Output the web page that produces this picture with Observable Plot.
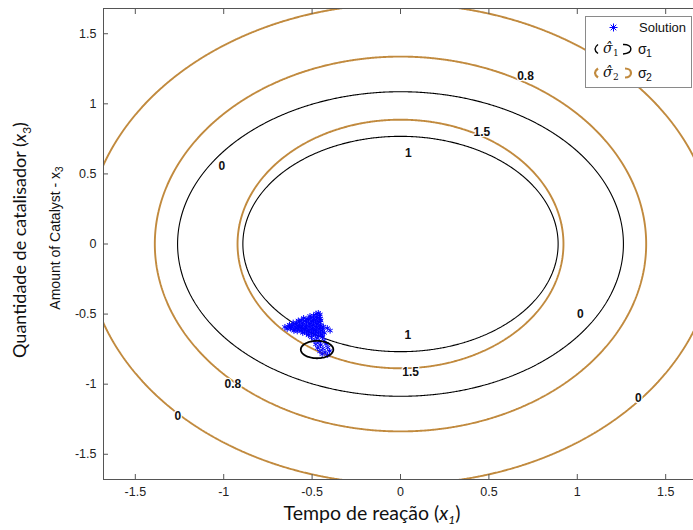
<!DOCTYPE html>
<html><head><meta charset="utf-8">
<script src="https://cdn.jsdelivr.net/npm/d3@7"></script>
<script src="https://cdn.jsdelivr.net/npm/@observablehq/plot@0.6"></script>
<style>
html,body{margin:0;padding:0;background:#fff;overflow:hidden;}
#wrap{position:relative;width:693px;height:530px;overflow:hidden;background:#fff;}
#chart{position:absolute;left:0;top:0;width:700px;}
#chart svg{max-width:none !important;}
.rot{position:absolute;white-space:nowrap;transform:translate(-50%,-50%) rotate(-90deg);}
#ylab1{left:21px;top:240px;font-family:Lato,"Open Sans",sans-serif;font-size:18px;color:#111;}
#ylab2{left:56px;top:238px;font-family:"Liberation Sans",Arial,sans-serif;font-size:14px;color:#111;}
#xlab{position:absolute;left:372px;top:514px;transform:translate(-50%,-50%);white-space:nowrap;font-family:Lato,"Open Sans",sans-serif;font-size:19.5px;color:#111;}
#legend{position:absolute;left:585px;top:16px;}
</style></head><body>
<div id="wrap">
<div id="chart"></div>
<div id="ylab1" class="rot">Quantidade de catalisador (<i>x</i><sub style="font-size:12px">3</sub>)</div>
<div id="ylab2" class="rot">Amount of Catalyst - x<sub style="font-size:10px">3</sub></div>
<div id="xlab">Tempo de reação (<i>x<sub style="font-size:12px">1</sub></i>)</div>
<svg id="legend" width="108" height="74" font-family="Liberation Sans, Arial, sans-serif">
  <rect x="0.5" y="0.5" width="106" height="71" fill="#fff" stroke="#8a8a8a"/>
  <path d="M24.5,11.5h8M28.5,7.5v8M25.7,8.7l5.6,5.6M31.3,8.7l-5.6,5.6" stroke="#0000ff" stroke-width="1"/>
  <text x="54" y="16" font-size="13" fill="#111">Solution</text>
  <path d="M13,28.5 Q7,33 13,37.5" fill="none" stroke="#000" stroke-width="1.4"/>
  <text x="18" y="37" font-family="DejaVu Serif, serif" font-style="italic" font-size="14" fill="#111">σ̂</text>
  <text x="28" y="40" font-family="DejaVu Serif, serif" font-size="9" fill="#111">1</text>
  <path d="M38,28.5 C48,28 49,37 38,38" fill="none" stroke="#000" stroke-width="1.4"/>
  <text x="53" y="38" font-size="14" fill="#111">σ</text>
  <text x="61" y="41" font-size="10.5" fill="#111">1</text>
  <path d="M13,52.5 Q7,57 13,61.5" fill="none" stroke="#C18A3E" stroke-width="2.2"/>
  <text x="18" y="61" font-family="DejaVu Serif, serif" font-style="italic" font-size="14" fill="#111">σ̂</text>
  <text x="28" y="64" font-family="DejaVu Serif, serif" font-size="9" fill="#111">2</text>
  <path d="M40,52.5 C48,52.5 48,61.5 40,61.5" fill="none" stroke="#C18A3E" stroke-width="2.2"/>
  <text x="53" y="62" font-size="14" fill="#111">σ</text>
  <text x="61" y="65" font-size="10.5" fill="#111">2</text>
</svg>
</div>
<script>
// ---- data ----
const xTicks = [-1.5, -1, -0.5, 0, 0.5, 1, 1.5];
const yTicks = [-1.5, -1, -0.5, 0, 0.5, 1, 1.5];
const axisDomain = [-1.68, 1.68];

// sigma1 (black) surface: c - (x^2/ax + y^2/ay)
const sigma1Coef = [2.0, 0.795, 0.59];
const sigma1Levels = [0, 1];
// sigma2 (gold) surface: c - (x^2/ax + y^2/ay)
const sigma2Coef = [2.05, 1.545, 1.43];
const sigma2Levels = [0, 0.8, 1.5];

// small confidence region around the solution: center and semi-axes
const regionCenter = [-0.472, -0.753];
const regionAxes = [0.092, 0.062];

// contour labels
const labelText = ["0.8", "0.8", "1.5", "1.5", "1", "1", "0", "0", "0", "0"];
const labelX = [0.707, -0.948, 0.46, 0.057, 0.044, 0.041, -1.011, 1.017, -1.26, 1.345];
const labelY = [1.197, -0.998, 0.797, -0.912, 0.647, -0.65, 0.552, -0.5, -1.231, -1.103];

// solution points (x1, x3)
const solution = [
 [-0.478,-0.497],[-0.465,-0.492],[-0.455,-0.503],
 [-0.512,-0.514],[-0.492,-0.511],[-0.474,-0.518],[-0.458,-0.515],
 [-0.548,-0.528],[-0.529,-0.533],[-0.508,-0.527],[-0.489,-0.532],[-0.471,-0.529],[-0.454,-0.534],
 [-0.578,-0.546],[-0.561,-0.543],[-0.539,-0.548],[-0.521,-0.544],[-0.502,-0.549],[-0.483,-0.545],[-0.466,-0.550],[-0.451,-0.546],
 [-0.607,-0.561],[-0.589,-0.564],[-0.571,-0.558],[-0.552,-0.563],[-0.531,-0.559],[-0.511,-0.565],[-0.492,-0.561],[-0.473,-0.566],[-0.456,-0.559],
 [-0.628,-0.576],[-0.612,-0.579],[-0.591,-0.574],[-0.572,-0.580],[-0.553,-0.576],[-0.532,-0.581],[-0.513,-0.575],[-0.494,-0.579],[-0.472,-0.574],[-0.452,-0.580],
 [-0.654,-0.592],[-0.636,-0.589],[-0.617,-0.594],[-0.596,-0.590],[-0.577,-0.595],[-0.556,-0.589],[-0.537,-0.594],[-0.516,-0.590],[-0.497,-0.596],[-0.476,-0.591],[-0.457,-0.595],[-0.436,-0.589],
 [-0.641,-0.606],[-0.622,-0.603],[-0.601,-0.608],[-0.582,-0.604],[-0.561,-0.609],[-0.541,-0.605],[-0.522,-0.610],[-0.501,-0.604],[-0.482,-0.609],[-0.461,-0.605],[-0.441,-0.610],[-0.414,-0.600],
 [-0.603,-0.619],[-0.584,-0.623],[-0.563,-0.618],[-0.543,-0.624],[-0.524,-0.619],[-0.503,-0.623],[-0.484,-0.618],[-0.463,-0.624],[-0.444,-0.619],[-0.398,-0.618],
 [-0.553,-0.634],[-0.532,-0.638],[-0.513,-0.633],[-0.492,-0.637],[-0.473,-0.632],[-0.452,-0.638],[-0.431,-0.634],
 [-0.521,-0.650],[-0.502,-0.653],[-0.481,-0.648],[-0.462,-0.654],[-0.443,-0.649],
 [-0.503,-0.667],[-0.472,-0.671],[-0.441,-0.664],
 [-0.488,-0.690],[-0.461,-0.697],[-0.432,-0.689],
 [-0.479,-0.716],[-0.452,-0.721],[-0.421,-0.713],
 [-0.468,-0.742],[-0.439,-0.746],[-0.411,-0.739],
 [-0.456,-0.766],[-0.427,-0.771],[-0.401,-0.764],
 [-0.443,-0.786],[-0.412,-0.791]
];

// ---- chart ----
const GOLD = "#C18A3E";
const AXC = "#555";
const sigma1 = (x, y) => sigma1Coef[0] - (x * x / sigma1Coef[1] + y * y / sigma1Coef[2]);
const sigma2 = (x, y) => sigma2Coef[0] - (x * x / sigma2Coef[1] + y * y / sigma2Coef[2]);
const region = (x, y) => 1 - (((x - regionCenter[0]) / regionAxes[0]) ** 2 + ((y - regionCenter[1]) / regionAxes[1]) ** 2);
const grid = {x1: -2.6, x2: 2.6, y1: -2.6, y2: 2.6, pixelSize: 1, clip: true, fill: "none"};
const labels = labelText.map((t, i) => ({t, x: labelX[i], y: labelY[i]}));
const fmt = d => String(d);

const plot = Plot.plot({
  width: 700, height: 530,
  marginLeft: 103, marginRight: 3, marginTop: 8, marginBottom: 51,
  style: {fontFamily: "Liberation Sans, Arial, sans-serif", fontSize: "12.5px", background: "transparent", color: "#222", maxWidth: "none"},
  x: {domain: axisDomain, label: null},
  y: {domain: axisDomain, label: null},
  marks: [
    Plot.contour({...grid, value: sigma2, thresholds: sigma2Levels, stroke: GOLD, strokeWidth: 1.9}),
    Plot.contour({...grid, value: sigma1, thresholds: sigma1Levels, stroke: "#000", strokeWidth: 1.1}),
    Plot.dot(solution, {x: d => d[0], y: d => d[1], symbol: "asterisk", r: 2.8, stroke: "#0000ff", strokeWidth: 1}),
    Plot.contour({...grid, value: region, thresholds: [0], stroke: "#000", strokeWidth: 1.8}),
    Plot.text(labels, {x: "x", y: "y", text: "t", fontWeight: "bold", fontSize: 12, fill: "#111", stroke: "white", strokeWidth: 2.5}),
    Plot.frame({stroke: AXC}),
    Plot.axisX(xTicks, {anchor: "bottom", tickSize: 5, dy: -5, tickPadding: 8, tickFormat: fmt, stroke: AXC, fill: "#222", label: null}),
    Plot.axisX(xTicks, {anchor: "top", tickSize: 5, dy: 5, tickFormat: () => "", stroke: AXC, label: null}),
    Plot.axisY(yTicks, {anchor: "left", tickSize: 5, dx: 5, tickPadding: 7, tickFormat: fmt, stroke: AXC, fill: "#222", label: null}),
    Plot.axisY(yTicks, {anchor: "right", tickSize: 5, dx: -5, tickFormat: () => "", stroke: AXC, label: null})
  ]
});
document.getElementById("chart").appendChild(plot);
</script>
</body></html>
